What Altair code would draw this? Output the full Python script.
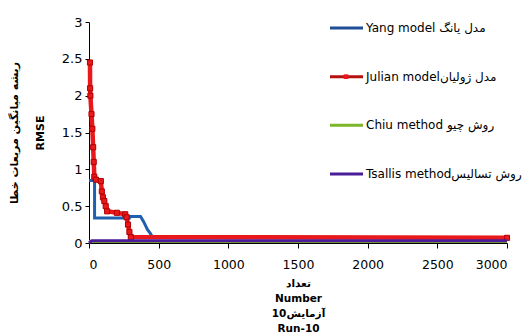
import altair as alt
import pandas as pd

series = ["Yang", "Julian", "Chiu", "Tsallis"]
legend_labels = [
    "Yang model مدل یانگ",
    "Julian modelمدل ژولیان",
    "Chiu method  روش چیو",
    "Tsallis methodروش تسالیس",
]

yang_x = [0, 40, 40, 290, 292, 370, 392, 420, 440, 455, 3000]
yang_y = [0.85, 0.85, 0.34, 0.34, 0.36, 0.36, 0.29, 0.18, 0.13, 0.08, 0.07]

julian_x = [7, 8, 10, 18, 24, 30, 34, 38, 50, 85, 92, 100, 110, 120, 130,
            200, 260, 270, 280, 290, 300, 3000]
julian_y = [2.45, 2.1, 2.0, 1.75, 1.55, 1.3, 1.1, 0.9, 0.86, 0.84, 0.7, 0.62,
            0.57, 0.5, 0.43, 0.41, 0.39, 0.35, 0.25, 0.15, 0.08, 0.07]

chiu_x = [0, 3000]
chiu_y = [0.02, 0.02]

tsallis_x = [0, 20, 3000]
tsallis_y = [0.0, 0.03, 0.03]

x_ticks = [0, 500, 1000, 1500, 2000, 2500, 3000]
y_ticks = [0, 0.5, 1, 1.5, 2, 2.5, 3]

x_title = ["تعداد", "Number", "آزمایش10", "Run-10"]
y_title = ["ریشه میانگین مربعات خطا", "RMSE"]

rows = []
for name, xs, ys in [("Yang", yang_x, yang_y), ("Julian", julian_x, julian_y),
                     ("Chiu", chiu_x, chiu_y), ("Tsallis", tsallis_x, tsallis_y)]:
    for i, (a, b) in enumerate(zip(xs, ys)):
        rows.append({"series": name, "idx": i, "number": a, "rmse": b})
df = pd.DataFrame(rows)
leg = pd.DataFrame({"series": series, "label": legend_labels})

FONT = "DejaVu Sans"

x_enc = alt.X("number:Q", scale=alt.Scale(domain=[0, 3000], nice=False),
              axis=alt.Axis(values=x_ticks, format="d", grid=False,
                            labelFont=FONT, labelFontSize=12.5, labelColor="#000",
                            tickColor="#000", domainColor="#000", tickSize=5,
                            labelPadding=10, title=x_title, titleFont=FONT,
                            titleFontWeight="bold", titleFontSize=10.5,
                            titleLineHeight=15.3, titleColor="#000",
                            titleBaseline="top", titleAlign="center",
                            titleX=209, titleY=35))
y_enc = alt.Y("rmse:Q", scale=alt.Scale(domain=[0, 3], nice=False),
              axis=alt.Axis(values=y_ticks, format="~f", grid=False,
                            labelFont=FONT, labelFontSize=13, labelColor="#000",
                            tickColor="#000", domainColor="#000", tickSize=4,
                            labelPadding=3, title=y_title, titleFont=FONT,
                            titleFontWeight="bold", titleFontSize=11,
                            titleLineHeight=26, titleColor="#000",
                            titleAngle=-90, titleAlign="center",
                            titleBaseline="middle", titleX=-75, titleY=110.5))

base = alt.Chart(df).encode(x=x_enc, y=y_enc, order=alt.Order("idx:Q"))

yang = base.transform_filter(alt.datum.series == "Yang").mark_line(
    color="#1F60AE", strokeWidth=3)
julian = base.transform_filter(alt.datum.series == "Julian").mark_line(
    color="#E8181B", strokeWidth=4.5)
julian_pts = base.transform_filter(alt.datum.series == "Julian").mark_point(
    shape="square", filled=True, size=26, color="#E8181B", stroke="#B00000",
    strokeWidth=1, opacity=1)
chiu = base.transform_filter(alt.datum.series == "Chiu").mark_line(
    color="#7DB62A", strokeWidth=3)
tsallis = base.transform_filter(alt.datum.series == "Tsallis").mark_line(
    color="#4B1C98", strokeWidth=3)

main = alt.layer(yang, julian, julian_pts, chiu, tsallis)

leg_y = alt.Y("series:N", scale=alt.Scale(type="point", domain=series,
                                           range=[6, 152], padding=0), axis=None)
leg_color = alt.Color("series:N", scale=alt.Scale(
    domain=series, range=["#1F4E99", "#B80F0F", "#7DB62A", "#4B1C98"]), legend=None)
legbase = alt.Chart(leg).encode(y=leg_y)
leg_rules = legbase.mark_rule(strokeWidth=3).encode(
    x=alt.value(241), x2=alt.value(274), color=leg_color)
leg_marker = legbase.transform_filter(alt.datum.series == "Julian").mark_point(
    shape="square", filled=True, size=22, color="#E8181B", opacity=1).encode(
    x=alt.value(257))
leg_text = legbase.mark_text(align="left", baseline="middle", font=FONT,
                             fontSize=12, color="#000").encode(
    x=alt.value(277), text="label:N")
legend = alt.layer(leg_rules, leg_marker, leg_text)

chart = alt.layer(main, legend).resolve_scale(
    y="independent", color="independent").properties(
    width=418, height=221,
    padding={"left": 81, "top": 14, "right": 16, "bottom": 92},
    autosize=alt.AutoSizeParams(type="none"),
    background="white",
).configure_view(stroke=None)

chart.save("out.html", embed_options={"renderer": "svg", "actions": False})
